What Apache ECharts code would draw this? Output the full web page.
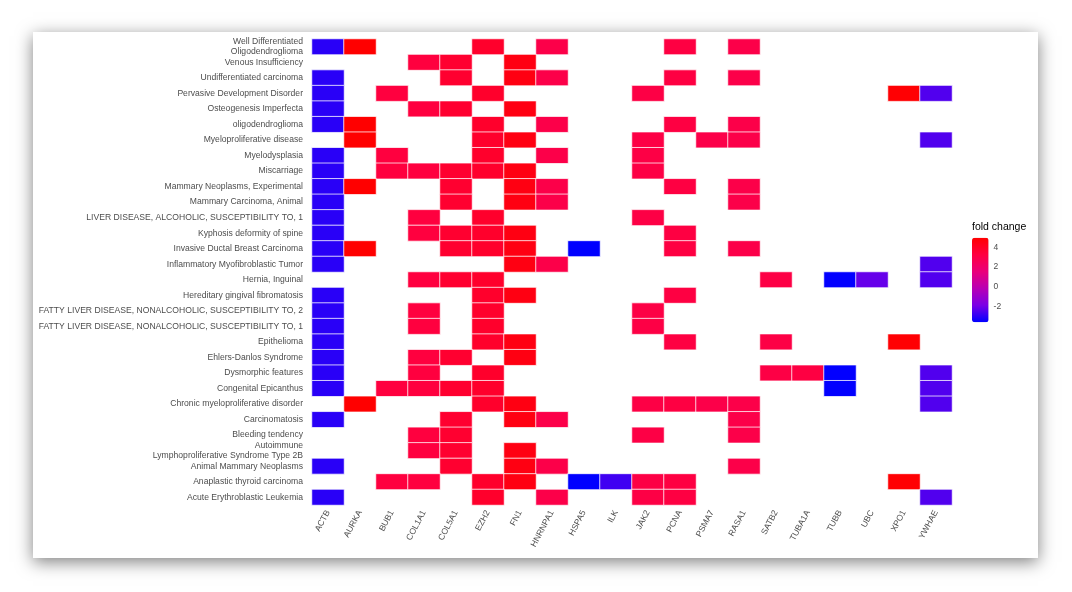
<!DOCTYPE html>
<html>
<head>
<meta charset="utf-8">
<script src="https://cdn.jsdelivr.net/npm/echarts@6/dist/echarts.min.js"></script>
<style>
  html, body { margin: 0; padding: 0; background: #fff; }
  body { width: 1072px; height: 592px; position: relative; overflow: hidden; }
  #panel {
    position: absolute; left: 33px; top: 32px; width: 1005px; height: 526px;
    background: #fff; box-shadow: 0 4px 16px rgba(0,0,0,0.5);
  }
  #main { width: 1005px; height: 526px; }
</style>
</head>
<body>
<div id="panel"><div id="main"></div></div>
<script>
// genes on the x axis
const genes = ['ACTB', 'AURKA', 'BUB1', 'COL1A1', 'COL5A1', 'EZH2', 'FN1', 'HNRNPA1', 'HSPA5', 'ILK',
  'JAK2', 'PCNA', 'PSMA7', 'RASA1', 'SATB2', 'TUBA1A', 'TUBB', 'UBC', 'XPO1', 'YWHAE'];

// fold change of each gene (same order as genes)
const foldChange = [-3.0, 4.97, 3.3, 3.3, 3.7, 3.8, 4.5, 3.0, -3.58, -2.7,
  3.1, 3.2, 3.0, 3.0, 3.1, 3.2, -3.55, -2.15, 4.9, -2.45];

// diseases, top to bottom
const diseases = [
  'Well Differentiated\nOligodendroglioma',
  'Venous Insufficiency',
  'Undifferentiated carcinoma',
  'Pervasive Development Disorder',
  'Osteogenesis Imperfecta',
  'oligodendroglioma',
  'Myeloproliferative disease',
  'Myelodysplasia',
  'Miscarriage',
  'Mammary Neoplasms, Experimental',
  'Mammary Carcinoma, Animal',
  'LIVER DISEASE, ALCOHOLIC, SUSCEPTIBILITY TO, 1',
  'Kyphosis deformity of spine',
  'Invasive Ductal Breast Carcinoma',
  'Inflammatory Myofibroblastic Tumor',
  'Hernia, Inguinal',
  'Hereditary gingival fibromatosis',
  'FATTY LIVER DISEASE, NONALCOHOLIC, SUSCEPTIBILITY TO, 2',
  'FATTY LIVER DISEASE, NONALCOHOLIC, SUSCEPTIBILITY TO, 1',
  'Epithelioma',
  'Ehlers-Danlos Syndrome',
  'Dysmorphic features',
  'Congenital Epicanthus',
  'Chronic myeloproliferative disorder',
  'Carcinomatosis',
  'Bleeding tendency',
  'Autoimmune\nLymphoproliferative Syndrome Type 2B',
  'Animal Mammary Neoplasms',
  'Anaplastic thyroid carcinoma',
  'Acute Erythroblastic Leukemia'
];

// genes linked to each disease (same order as diseases)
const diseaseGenes = [
  ['ACTB', 'AURKA', 'EZH2', 'HNRNPA1', 'PCNA', 'RASA1'],
  ['COL1A1', 'COL5A1', 'FN1'],
  ['ACTB', 'COL5A1', 'FN1', 'HNRNPA1', 'PCNA', 'RASA1'],
  ['ACTB', 'BUB1', 'EZH2', 'JAK2', 'XPO1', 'YWHAE'],
  ['ACTB', 'COL1A1', 'COL5A1', 'FN1'],
  ['ACTB', 'AURKA', 'EZH2', 'HNRNPA1', 'PCNA', 'RASA1'],
  ['AURKA', 'EZH2', 'FN1', 'JAK2', 'PSMA7', 'RASA1', 'YWHAE'],
  ['ACTB', 'BUB1', 'EZH2', 'HNRNPA1', 'JAK2'],
  ['ACTB', 'BUB1', 'COL1A1', 'COL5A1', 'EZH2', 'FN1', 'JAK2'],
  ['ACTB', 'AURKA', 'COL5A1', 'FN1', 'HNRNPA1', 'PCNA', 'RASA1'],
  ['ACTB', 'COL5A1', 'FN1', 'HNRNPA1', 'RASA1'],
  ['ACTB', 'COL1A1', 'EZH2', 'JAK2'],
  ['ACTB', 'COL1A1', 'COL5A1', 'EZH2', 'FN1', 'PCNA'],
  ['ACTB', 'AURKA', 'COL5A1', 'EZH2', 'FN1', 'HSPA5', 'PCNA', 'RASA1'],
  ['ACTB', 'FN1', 'HNRNPA1', 'YWHAE'],
  ['COL1A1', 'COL5A1', 'EZH2', 'SATB2', 'TUBB', 'UBC', 'YWHAE'],
  ['ACTB', 'EZH2', 'FN1', 'PCNA'],
  ['ACTB', 'COL1A1', 'EZH2', 'JAK2'],
  ['ACTB', 'COL1A1', 'EZH2', 'JAK2'],
  ['ACTB', 'EZH2', 'FN1', 'PCNA', 'SATB2', 'XPO1'],
  ['ACTB', 'COL1A1', 'COL5A1', 'FN1'],
  ['ACTB', 'COL1A1', 'EZH2', 'SATB2', 'TUBA1A', 'TUBB', 'YWHAE'],
  ['ACTB', 'BUB1', 'COL1A1', 'COL5A1', 'EZH2', 'TUBB', 'YWHAE'],
  ['AURKA', 'EZH2', 'FN1', 'JAK2', 'PCNA', 'PSMA7', 'RASA1', 'YWHAE'],
  ['ACTB', 'COL5A1', 'FN1', 'HNRNPA1', 'RASA1'],
  ['COL1A1', 'COL5A1', 'JAK2', 'RASA1'],
  ['COL1A1', 'COL5A1', 'FN1'],
  ['ACTB', 'COL5A1', 'FN1', 'HNRNPA1', 'RASA1'],
  ['BUB1', 'COL1A1', 'EZH2', 'FN1', 'HSPA5', 'ILK', 'JAK2', 'PCNA', 'XPO1'],
  ['ACTB', 'EZH2', 'HNRNPA1', 'JAK2', 'PCNA', 'YWHAE']
];

// colour bar
const foldMin = -3.58;
const foldMax = 4.97;
const legendTicks = [-2, 0, 2, 4];

let cells = [];
for (let i = 0; i < diseases.length; i++) {
  for (let g of diseaseGenes[i]) {
    let j = genes.indexOf(g);
    cells.push([j, i, foldChange[j]]);
  }
}

const labelColor = '#4d4d4d';
const fontFam = 'Arial, "Liberation Sans", sans-serif';

let myChart = echarts.init(document.getElementById('main'));

let option = {
  animation: false,
  textStyle: { fontFamily: fontFam },
  title: {
    text: 'fold change',
    left: 939, top: 190, padding: 0,
    textStyle: { fontSize: 10.5, fontWeight: 'normal', color: '#000', fontFamily: fontFam }
  },
  grid: [
    { left: 279, top: 7, width: 640, height: 466 },
    { left: 939, top: 205.7, width: 16.6, height: 84.6 }
  ],
  xAxis: [
    {
      type: 'category', data: genes, gridIndex: 0,
      axisLine: { show: false }, axisTick: { show: false }, splitLine: { show: false },
      axisLabel: { rotate: 62, margin: 6, fontSize: 8.5, color: labelColor, interval: 0 }
    },
    { type: 'value', gridIndex: 1, min: 0, max: 1, show: false }
  ],
  yAxis: [
    {
      type: 'category', data: diseases, inverse: true, gridIndex: 0,
      axisLine: { show: false }, axisTick: { show: false }, splitLine: { show: false },
      axisLabel: { margin: 9, fontSize: 8.6, lineHeight: 9.5, color: labelColor, interval: 0 }
    },
    {
      type: 'value', gridIndex: 1, min: foldMin, max: foldMax, position: 'right',
      axisLine: { show: false }, splitLine: { show: false },
      axisTick: { show: true, inside: true, length: 3, customValues: legendTicks,
        lineStyle: { color: '#fff', width: 1 } },
      axisLabel: { customValues: legendTicks, margin: 5, fontSize: 8.5, color: labelColor }
    },
    {
      type: 'value', gridIndex: 1, min: foldMin, max: foldMax, position: 'left',
      axisLine: { show: false }, splitLine: { show: false },
      axisTick: { show: true, inside: true, length: 3, customValues: legendTicks,
        lineStyle: { color: '#fff', width: 1 } },
      axisLabel: { show: false }
    }
  ],
  visualMap: {
    type: 'continuous',
    min: foldMin, max: foldMax,
    calculable: false,
    seriesIndex: 0,
    left: 939, top: 205.7,
    itemWidth: 16.6, itemHeight: 84.6,
    padding: 0,
    text: null,
    showLabel: false,
    inRange: { color: ['#0000FF', '#7A00E6', '#B800B4', '#EA007A', '#FF0040', '#FF0000'] }
  },
  series: [
    {
      type: 'heatmap',
      xAxisIndex: 0, yAxisIndex: 0,
      data: cells,
      itemStyle: { borderColor: 'rgba(255,255,255,0.75)', borderWidth: 1 },
      emphasis: { disabled: true }
    }
  ]
};

myChart.setOption(option);
</script>
</body>
</html>
